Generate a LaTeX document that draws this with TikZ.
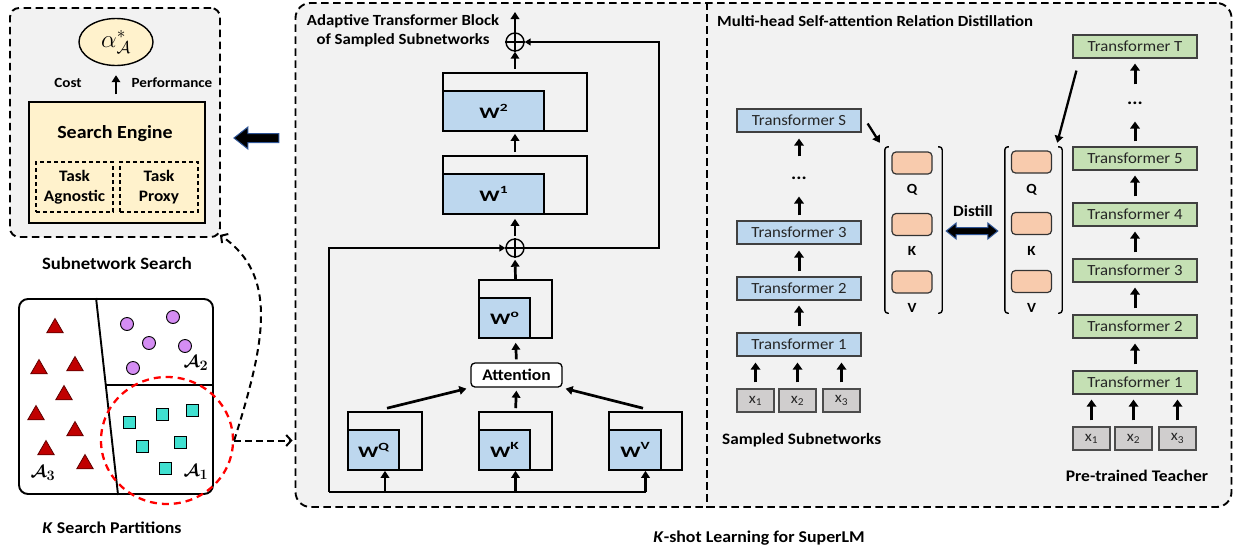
\documentclass[tikz,border=0pt]{standalone}
\usepackage{amsmath,bm}
\usepackage{fontspec}
\setmainfont{Carlito}[FakeStretch=1.08]
\usetikzlibrary{arrows.meta,calc,shapes.geometric}
\definecolor{bggray}{HTML}{F2F2F2}
\definecolor{ylw}{HTML}{FFF2CC}
\definecolor{wblue}{HTML}{BDD7EE}
\definecolor{tgreen}{HTML}{C5E0B4}
\definecolor{qorange}{HTML}{F8CBAD}
\definecolor{tokgray}{HTML}{D0CECE}
\definecolor{trired}{HTML}{C00000}
\definecolor{violetc}{HTML}{D48DF3}
\definecolor{turq}{HTML}{40E0D0}
\definecolor{arrblue}{HTML}{2F5597}
\newcommand{\wlab}[2]{\scalebox{1.3}[1]{W\raisebox{0.45em}{\fontsize{11}{11}\selectfont #1}}}
\tikzset{
  frame/.style={draw, dash pattern=on 7.5pt off 4.5pt, line width=1.9pt, fill=bggray, inner sep=0pt},
  obox/.style={draw, line width=1.6pt, inner sep=0pt},
  wbox/.style={draw, line width=1.6pt, fill=wblue, inner sep=0pt, font=\bfseries\fontsize{16}{16}\selectfont},
  arr/.style={-{Triangle[length=7pt,width=8.5pt]}, line width=2.7pt},
  tarr/.style={-{Triangle[length=7pt,width=9.5pt]}, line width=3pt},
  thinarr/.style={-{Triangle[length=6pt,width=7pt]}, line width=1.8pt},
  tfs/.style={draw=black!75, line width=1.2pt, fill=wblue, minimum width=124pt, minimum height=23pt, inner sep=0pt, font=\fontsize{15.5}{15.5}\selectfont, text=black!85},
  tft/.style={tfs, fill=tgreen},
  tok/.style={draw=black!70, line width=1.2pt, fill=tokgray, minimum width=37pt, minimum height=23pt, inner sep=0pt, font=\fontsize{15}{15}\selectfont, text=black!85},
  qbox/.style={draw=black!80, line width=1.2pt, fill=qorange, rounded corners=4pt, minimum width=40pt, minimum height=22pt, inner sep=0pt},
  lbl/.style={inner sep=0pt, font=\bfseries\fontsize{15.5}{19}\selectfont},
  qlbl/.style={inner sep=0pt, font=\bfseries\fontsize{14}{14}\selectfont},
  dotsn/.style={inner sep=0pt, font=\bfseries\fontsize{18}{18}\selectfont},
  brk/.style={line width=1.4pt, rounded corners=3pt},
  tri/.style={regular polygon, regular polygon sides=3, minimum size=19pt, inner sep=0pt, fill=trired, draw=black!50!trired, line width=0.8pt},
  circ/.style={circle, minimum size=13pt, inner sep=0pt, fill=violetc, draw=black, line width=0.9pt},
  sq/.style={rectangle, minimum size=12pt, inner sep=0pt, fill=turq, draw=black, line width=0.9pt},
  alab/.style={inner sep=0pt, font=\fontsize{19}{19}\selectfont},
  dasharr/.style={dash pattern=on 6.5pt off 4.5pt, line width=2pt, -{Straight Barb[length=5pt,width=11pt]}},
  opl/.style={circle, draw, line width=1.4pt, minimum size=18pt, inner sep=0pt},
}
\begin{document}
\begin{tikzpicture}[x=1pt,y=-1pt]
\useasboundingbox (0,0) rectangle (1233,552);
% ---------- frames ----------
\node[frame, rounded corners=9pt, minimum width=210pt, minimum height=229pt] (lframe) at (115,122.5) {};
\node[frame, rounded corners=15pt, minimum width=936pt, minimum height=504pt] (bframe) at (763.5,255) {};
\coordinate (dv) at (707,0);
\draw[dash pattern=on 7.5pt off 4.5pt, line width=1.9pt] (bframe.north -| dv) -- (bframe.south -| dv);

% ---------- subnetwork search ----------
\node[ellipse, draw, line width=1.4pt, fill=ylw, minimum width=74pt, minimum height=47pt, inner sep=0pt] (alpha) at (116,42) {\fontsize{27}{27}\selectfont$\alpha^*_{\mathcal{A}}$};
\node[draw, line width=1.5pt, fill=ylw, minimum width=176pt, minimum height=121pt] (se) at (117,162.5) {};
\node[inner sep=0pt, font=\bfseries\fontsize{18.5}{20}\selectfont] (setitle) at (115,134) {Search Engine};
\node[draw, dash pattern=on 4pt off 3pt, line width=1.1pt, minimum width=77pt, minimum height=50pt, align=center, inner sep=0pt, font=\bfseries\fontsize{16}{20}\selectfont] (ta) at (74.5,187) {Task\\Agnostic};
\node[draw, dash pattern=on 4pt off 3pt, line width=1.1pt, minimum width=78pt, minimum height=50pt, align=center, inner sep=0pt, font=\bfseries\fontsize{16}{20}\selectfont] (tp) at (159,187) {Task\\Proxy};
\draw[arr, shorten <=7pt, shorten >=9pt] (alpha.south |- se.north) -- (alpha.south);
\node[lbl, font=\bfseries\fontsize{14}{14}\selectfont] (cost) at (68,83) {Cost};
\node[lbl, font=\bfseries\fontsize{14}{14}\selectfont] (perf) at (172,83) {Performance};
\node[lbl, font=\bfseries\fontsize{17.3}{18}\selectfont] (sstitle) at (117,263) {Subnetwork Search};
% big arrow
\coordinate (bt) at ($(lframe.east)+(13,15.5)$);
\draw[fill=black, draw=arrblue, line width=1pt] (bt) -- ++(14,-11) -- ++(0,6.5) -- ++(31,0) -- ++(0,9) -- ++(-31,0) -- ++(0,6.5) -- cycle;

% ---------- partitions ----------
\node[draw, line width=1.9pt, rounded corners=9pt, fill=white, minimum width=194pt, minimum height=195pt, inner sep=0pt] (pbox) at (116,396.5) {};
\draw[line width=1.9pt] ($(pbox.north west)+(78,0)$) -- ($(pbox.south west)+(100,0)$);
\draw[line width=1.9pt] ($(pbox.west)+(88,-11.5)$) -- ($(pbox.east)+(0,-11.5)$);
\foreach \p/\q [count=\i] in {55/328,39/369,75/366,64/395,36/415,75/431,46/450,85/464}
  \node[tri] (tr\i) at (\p,\q) {};
\foreach \p/\q [count=\i] in {127/324,173/317,149/343,185/346,133/368}
  \node[circ] (ci\i) at (\p,\q) {};
\foreach \p/\q [count=\i] in {129/422,162/414,192/410,142/446,180/442,165/468}
  \node[sq] (sq\i) at (\p,\q) {};
\node[alab] (a3) at (43,473) {$\bm{\mathcal{A}}_{\bm 3}$};
\node[alab] (a2) at (196,363) {$\bm{\mathcal{A}}_{\bm 2}$};
\node[alab] (a1) at (196,472) {$\bm{\mathcal{A}}_{\bm 1}$};
\node[ellipse, draw=red, line width=2.3pt, dash pattern=on 7pt off 5pt, minimum width=132pt, minimum height=127pt, inner sep=0pt] (sel) at (167,440.5) {};
\node[lbl, font=\bfseries\fontsize{16.5}{17}\selectfont] (kpart) at (112,528) {\textit{K} Search Partitions};
\draw[dasharr] (sel.east) -- ($(bframe.west |- sel.east)+(-2,0)$);
\draw[dasharr] (sel.east) .. controls (266,340) and (278,275) .. ($(lframe.south east)+(-1,-3)$);

% ---------- adaptive transformer block ----------
\node[lbl, align=center] (mtitle) at (403,31) {Adaptive Transformer Block\\of Sampled Subnetworks};
\node[opl] (op1) at (515,42) {};
\draw[line width=1.4pt] (op1.north) -- (op1.south) (op1.west) -- (op1.east);
\node[opl] (op2) at (515,248) {};
\draw[line width=1.4pt] (op2.north) -- (op2.south) (op2.west) -- (op2.east);
\coordinate (topout) at (515,12);
% W2, W1
\node[obox, minimum width=144pt, minimum height=58pt] (w2o) at (515,102) {};
\node[wbox, minimum width=101pt, minimum height=40pt] (w2) at (493.5,111) {\wlab{2}{}};
\node[obox, minimum width=144pt, minimum height=58pt] (w1o) at (515,185) {};
\node[wbox, minimum width=101pt, minimum height=40pt] (w1) at (493.5,194) {\wlab{1}{}};
% Wo
\node[obox, minimum width=73pt, minimum height=58pt] (woo) at (515.5,309) {};
\node[wbox, minimum width=51pt, minimum height=40pt] (wo) at (504.5,318) {\wlab{o}{}};
% attention
\node[draw, rounded corners=4pt, line width=1.3pt, fill=white, minimum width=91pt, minimum height=24pt, inner sep=0pt, font=\bfseries\fontsize{16.2}{16}\selectfont] (att) at (516.5,375) {Attention};
% WQ WK WV
\node[obox, minimum width=74pt, minimum height=58pt] (wqo) at (385,441) {};
\node[wbox, minimum width=51pt, minimum height=40pt] (wq) at (373.5,450) {\wlab{Q}{}};
\node[obox, minimum width=73pt, minimum height=58pt] (wko) at (515.5,441) {};
\node[wbox, minimum width=51pt, minimum height=40pt] (wk) at (504.5,450) {\wlab{K}{}};
\node[obox, minimum width=73pt, minimum height=58pt] (wvo) at (645.5,441) {};
\node[wbox, minimum width=52pt, minimum height=40pt] (wv) at (635,450) {\wlab{V}{}};
% arrows
\draw[arr] (op1.north) -- (topout);
\draw[arr, shorten <=3pt] (w2o.north) -- (op1.south);
\draw[arr, shorten <=3pt, shorten >=2pt] (w1o.north) -- (w2o.south);
\draw[arr, shorten <=2pt, shorten >=4pt] (op2.north) -- (w1o.south);
\draw[arr, shorten >=2pt] (woo.north) -- (op2.south);
\draw[arr, shorten <=3pt, shorten >=4pt] (att.north) -- (woo.south);
\draw[arr, shorten <=3pt, shorten >=3pt] (wko.north) -- (att.south);
\draw[arr] ($(wqo.north)+(2,-3)$) -- ($(att.south west)+(-4,1)$);
\draw[arr] ($(wvo.north)+(-2.5,-3)$) -- ($(att.south east)+(3,1)$);
\coordinate (cL) at (329,492);
\coordinate (cRt) at (659,248);
\draw[line width=1.8pt] (cL) -- (wvo.south |- cL);
\draw[arr, line width=2.2pt] (wqo.south |- cL) -- (wqo.south);
\draw[arr, line width=2.2pt] (wko.south |- cL) -- (wko.south);
\draw[arr, line width=2.2pt] (wvo.south |- cL) -- (wvo.south);
\draw[thinarr] (cL) |- (op2.west);
\draw[thinarr] (op2.east) -- (cRt) |- (op1.east);

% ---------- distillation ----------
\node[lbl, anchor=west] (rtitle) at (717,21) {Multi-head Self-attention Relation Distillation};
% student
\node[tfs] (sS) at (799,120.5) {Transformer S};
\node[dotsn] (sdots) at (799,178) {...};
\node[tfs] (s3) at (799,232.5) {Transformer 3};
\node[tfs] (s2) at (799,288.5) {Transformer 2};
\node[tfs] (s1) at (799,344.5) {Transformer 1};
\node[tok] (sx1) at (755.5,400.5) {x\textsubscript{1}};
\node[tok] (sx2) at (797.5,400.5) {x\textsubscript{2}};
\node[tok] (sx3) at (841.5,400.5) {x\textsubscript{3}};
\draw[tarr, shorten <=6pt, shorten >=6pt] (sx1.north) -- (sx1.north |- s1.south);
\draw[tarr, shorten <=6pt, shorten >=6pt] (sx2.north) -- (sx2.north |- s1.south);
\draw[tarr, shorten <=6pt, shorten >=6pt] (sx3.north) -- (sx3.north |- s1.south);
\draw[tarr, shorten <=6pt, shorten >=5pt] (s1.north) -- (s2.south);
\draw[tarr, shorten <=5pt, shorten >=6pt] (s2.north) -- (s3.south);
\draw[tarr, shorten <=5pt, shorten >=17pt] (s3.north) -- (sdots.south);
\draw[tarr, shorten <=20pt, shorten >=6pt] (sdots.north) -- (sS.south);
\node[lbl, anchor=west, font=\bfseries\fontsize{15.9}{16}\selectfont] (sstitle2) at (722,440) {Sampled Subnetworks};
% teacher
\node[tft] (tT) at (1135,46.5) {Transformer T};
\node[dotsn] (tdots) at (1135,103) {...};
\node[tft] (t5) at (1135,158.5) {Transformer 5};
\node[tft] (t4) at (1135,214.5) {Transformer 4};
\node[tft] (t3) at (1135,270.5) {Transformer 3};
\node[tft] (t2) at (1135,326.5) {Transformer 2};
\node[tft] (t1) at (1135,382.5) {Transformer 1};
\node[tok] (tx1) at (1091.5,438.5) {x\textsubscript{1}};
\node[tok] (tx2) at (1133.5,438.5) {x\textsubscript{2}};
\node[tok] (tx3) at (1177.5,438.5) {x\textsubscript{3}};
\draw[tarr, shorten <=6pt, shorten >=5pt] (tx1.north) -- (tx1.north |- t1.south);
\draw[tarr, shorten <=6pt, shorten >=5pt] (tx2.north) -- (tx2.north |- t1.south);
\draw[tarr, shorten <=6pt, shorten >=5pt] (tx3.north) -- (tx3.north |- t1.south);
\draw[tarr, shorten <=6pt, shorten >=5pt] (t1.north) -- (t2.south);
\draw[tarr, shorten <=6pt, shorten >=5pt] (t2.north) -- (t3.south);
\draw[tarr, shorten <=6pt, shorten >=5pt] (t3.north) -- (t4.south);
\draw[tarr, shorten <=6pt, shorten >=5pt] (t4.north) -- (t5.south);
\draw[tarr, shorten <=5pt, shorten >=17pt] (t5.north) -- (tdots.south);
\draw[tarr, shorten <=17pt, shorten >=5pt] (tdots.north) -- (tT.south);
\node[lbl, font=\bfseries\fontsize{16.2}{17}\selectfont] (pttitle) at (1137,476) {Pre-trained Teacher};
% matrices
\node[minimum width=57pt, minimum height=166pt, inner sep=0pt] (m1) at (913.5,230) {};
\node[minimum width=57pt, minimum height=166pt, inner sep=0pt] (m2) at (1033.5,230) {};
\foreach \m in {m1,m2}{
  \draw[brk] ($(\m.north west)+(4,0)$) -- (\m.north west) -- (\m.south west) -- ++(4,0);
  \draw[brk] ($(\m.north east)+(-4,0)$) -- (\m.north east) -- (\m.south east) -- ++(-4,0);
}
\node[qbox] (q1) at (912,163) {};
\node[qbox] (k1) at (912,224.5) {};
\node[qbox] (v1) at (912,282) {};
\node[qbox] (q2) at (1031.5,162) {};
\node[qbox] (k2) at (1031.5,223.5) {};
\node[qbox] (v2) at (1031.5,281.5) {};
\node[qlbl] (q1l) at (912,190) {Q};
\node[qlbl] (k1l) at (912,251) {K};
\node[qlbl] (v1l) at (912,308) {V};
\node[qlbl] (q2l) at (1031.5,190) {Q};
\node[qlbl] (k2l) at (1031.5,251) {K};
\node[qlbl] (v2l) at (1031.5,308) {V};
\node[lbl, font=\bfseries\fontsize{15.7}{16}\selectfont] (dist) at (973,211) {Distill};
\coordinate (da) at ($(m1.east)+(4,1)$);
\coordinate (db) at ($(m2.west)+(-7,1)$);
\draw[fill=black, draw=arrblue, line width=1pt] (da) -- ++(10,-8) -- ++(0,4.5) -- ($(db)+(-10,-3.5)$) -- ++(0,-4.5) -- (db) -- ++(-10,8) -- ++(0,-4.5) -- ($(da)+(10,3.5)$) -- ++(0,4.5) -- cycle;
\draw[arr, line width=2.3pt] ($(sS.east)+(6,3)$) -- ($(m1.north west)+(-5,-4)$);
\draw[arr, line width=2.3pt] ($(tT.south west)+(4,12)$) -- ($(m2.north east)+(-5,-4)$);
\node[lbl, font=\bfseries\fontsize{16.5}{17}\selectfont] (ktitle) at (759,538) {\textit{K}-shot Learning for SuperLM};
\end{tikzpicture}
\end{document}
